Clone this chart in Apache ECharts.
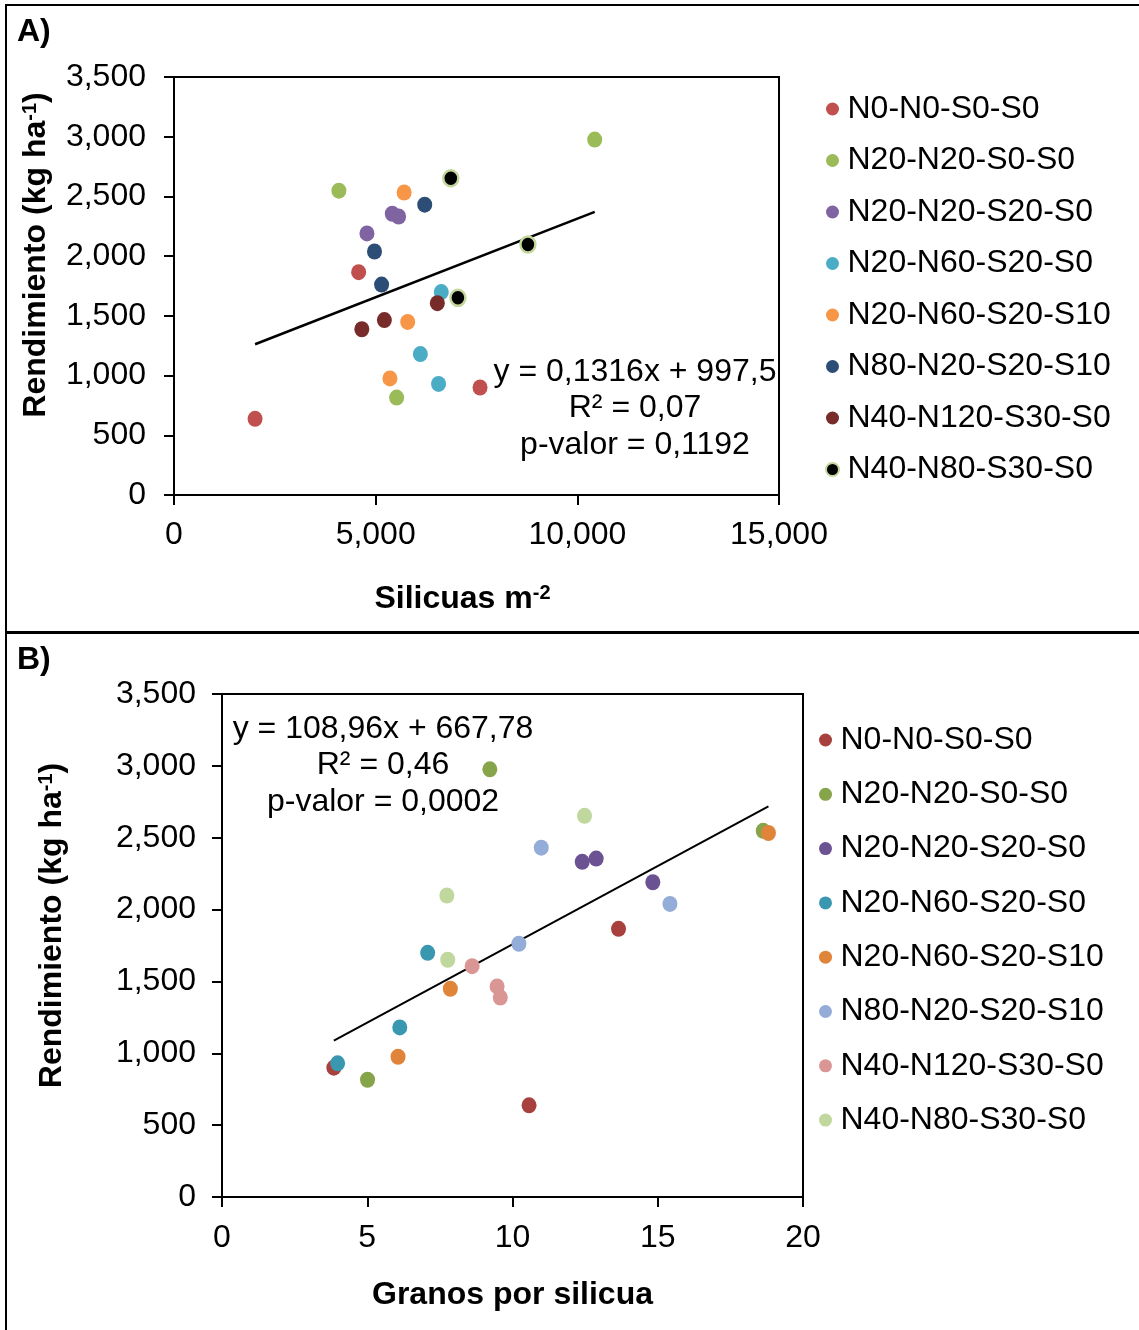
<!DOCTYPE html>
<html>
<head>
<meta charset="utf-8">
<script src="https://cdn.jsdelivr.net/npm/echarts@6/dist/echarts.min.js"></script>
<style>
  html, body { margin: 0; padding: 0; background: #fff; }
  #wrap { position: relative; width: 1139px; height: 1330px; overflow: hidden; }
  #chartA { position: absolute; left: 0; top: 0; width: 1139px; height: 632px; }
  #chartB { position: absolute; left: 0; top: 632px; width: 1139px; height: 698px; }
  .ln { position: absolute; background: #000; z-index: 5; }
</style>
</head>
<body>
<div id="wrap">
  <div id="chartA"></div>
  <div id="chartB"></div>
  <div class="ln" style="left:5px; top:4px; width:1134px; height:2px;"></div>
  <div class="ln" style="left:5px; top:4px; width:2px; height:1326px;"></div>
  <div class="ln" style="left:5px; top:631px; width:1134px; height:3px;"></div>
</div>
<script>
// ---- Data ----
const treatments = ['N0-N0-S0-S0', 'N20-N20-S0-S0', 'N20-N20-S20-S0', 'N20-N60-S20-S0',
                    'N20-N60-S20-S10', 'N80-N20-S20-S10', 'N40-N120-S30-S0', 'N40-N80-S30-S0'];

// Rendimiento (kg ha-1), three replicates per treatment
const yield_N0N0S0S0     = [638, 1866, 900];
const yield_N20N20S0S0   = [2976, 2548, 816];
const yield_N20N20S20S0  = [2355, 2332, 2190];
const yield_N20N60S20S0  = [1699, 1180, 930];
const yield_N20N60S20S10 = [2533, 1449, 976];
const yield_N80N20S20S10 = [2431, 2039, 1762];
const yield_N40N120S30S0 = [1606, 1465, 1388];
const yield_N40N80S30S0  = [2652, 2098, 1651];

// Silicuas m-2 (panel A)
const sil_N0N0S0S0     = [2010, 4578, 7588];
const sil_N20N20S0S0   = [10431, 4088, 5520];
const sil_N20N20S20S0  = [5412, 5569, 4784];
const sil_N20N60S20S0  = [6627, 6108, 6559];
const sil_N20N60S20S10 = [5706, 5794, 5353];
const sil_N80N20S20S10 = [6216, 4971, 5147];
const sil_N40N120S30S0 = [6529, 5216, 4657];
const sil_N40N80S30S0  = [6863, 8775, 7039];

// Granos por silicua (panel B)
const gr_N0N0S0S0     = [10.57, 13.65, 3.85];
const gr_N20N20S0S0   = [9.22, 18.63, 5.01];
const gr_N20N20S20S0  = [12.88, 12.40, 14.83];
const gr_N20N60S20S0  = [7.08, 6.12, 3.98];
const gr_N20N60S20S10 = [18.81, 7.86, 6.06];
const gr_N80N20S20S10 = [10.99, 15.42, 10.22];
const gr_N40N120S30S0 = [8.61, 9.47, 9.58];
const gr_N40N80S30S0  = [12.48, 7.74, 7.77];

// Tick values
const yTicks = [0, 500, 1000, 1500, 2000, 2500, 3000, 3500];
const xTicksA = [0, 5000, 10000, 15000];
const xTicksB = [0, 5, 10, 15, 20];

// Regression (from chart annotations)
const slopeA = 0.1316, interceptA = 997.5;
const eqA = ['y = 0,1316x + 997,5', 'R² = 0,07', 'p-valor = 0,1192'];
const slopeB = 108.96, interceptB = 667.78;
const eqB = ['y = 108,96x + 667,78', 'R² = 0,46', 'p-valor = 0,0002'];

const yields = [yield_N0N0S0S0, yield_N20N20S0S0, yield_N20N20S20S0, yield_N20N60S20S0,
                yield_N20N60S20S10, yield_N80N20S20S10, yield_N40N120S30S0, yield_N40N80S30S0];
const silA = [sil_N0N0S0S0, sil_N20N20S0S0, sil_N20N20S20S0, sil_N20N60S20S0,
              sil_N20N60S20S10, sil_N80N20S20S10, sil_N40N120S30S0, sil_N40N80S30S0];
const grB = [gr_N0N0S0S0, gr_N20N20S0S0, gr_N20N20S20S0, gr_N20N60S20S0,
             gr_N20N60S20S10, gr_N80N20S20S10, gr_N40N120S30S0, gr_N40N80S30S0];

// ---- Styles ----
const colorsA = ['#C0504D', '#9BBB59', '#8064A2', '#4BACC6', '#F79646', '#2C4D75', '#772C2A', '#000000'];
const colorsB = ['#A8403D', '#86A44A', '#6A5293', '#3A97B0', '#E0843A', '#94ACD8', '#D99694', '#C0D79E'];
const FONT = '"Liberation Sans", Arial, sans-serif';
const FS = 32;
const fmt = v => Number(v).toLocaleString('en-US');

function axisCommon() {
  return {
    axisLine: { show: true, onZero: false, lineStyle: { color: '#000', width: 2 } },
    axisTick: { show: true, inside: false, length: 10, lineStyle: { color: '#000', width: 2 } },
    splitLine: { show: false }
  };
}

function richStyles() {
  return {
    b: { fontFamily: FONT, fontSize: FS, fontWeight: 'bold', color: '#000' },
    sup: { fontFamily: FONT, fontSize: 20, fontWeight: 'bold', color: '#000', verticalAlign: 'top', lineHeight: FS, padding: [0, 0, 15, 0] }
  };
}

function build(cfg) {
  const series = treatments.map((t, i) => ({
    name: t,
    type: 'scatter',
    symbol: 'circle',
    symbolSize: [15, 16],
    itemStyle: Object.assign({ opacity: 1 }, cfg.itemStyle(i)),
    data: cfg.xs[i].map((x, k) => [x, yields[i][k]]),
    z: 3
  }));
  const allX = cfg.xs.flat();
  const xmin = Math.min(...allX), xmax = Math.max(...allX);
  series.push({
    name: 'trend',
    type: 'line',
    data: [[xmin, cfg.slope * xmin + cfg.intercept], [xmax, cfg.slope * xmax + cfg.intercept]],
    symbol: 'none',
    lineStyle: { color: '#000', width: cfg.lineW },
    z: 2,
    silent: true
  });
  const xt = cfg.xTicks;
  return {
    animation: false,
    backgroundColor: '#fff',
    textStyle: { fontFamily: FONT },
    grid: { left: cfg.grid[0], top: cfg.grid[1], width: cfg.grid[2], height: cfg.grid[3],
            show: true, borderColor: '#000', borderWidth: 2, backgroundColor: 'transparent' },
    xAxis: Object.assign(axisCommon(), {
      type: 'value', min: xt[0], max: xt[xt.length - 1], interval: xt[1] - xt[0],
      axisLabel: { fontSize: FS, color: '#000', margin: cfg.xLabMargin, fontFamily: FONT, formatter: fmt },
      name: cfg.xName, nameLocation: 'middle', nameGap: cfg.xNameGap,
      nameTextStyle: { fontFamily: FONT, fontSize: FS, fontWeight: 'bold', color: '#000',
        padding: cfg.xNamePad, rich: richStyles() }
    }),
    yAxis: Object.assign(axisCommon(), {
      type: 'value', min: yTicks[0], max: yTicks[yTicks.length - 1], interval: yTicks[1] - yTicks[0],
      axisLabel: { fontSize: FS, color: '#000', margin: cfg.yLabMargin, fontFamily: FONT, formatter: fmt },
      name: '{b|Rendimiento (kg ha}{sup|-1}{b|)}', nameLocation: 'middle', nameGap: cfg.yNameGap,
      nameTextStyle: { fontFamily: FONT, fontSize: FS, fontWeight: 'bold', color: '#000',
        padding: cfg.yNamePad, rich: richStyles() }
    }),
    legend: {
      orient: 'vertical', left: cfg.legend[0], top: cfg.legend[1],
      itemWidth: 20, itemHeight: 13, itemGap: cfg.legendGap, icon: 'circle',
      data: treatments,
      textStyle: { fontFamily: FONT, fontSize: FS, color: '#000' }
    },
    graphic: [
      { type: 'text', left: 17, top: cfg.labelTop, style: { text: cfg.label, font: 'bold ' + FS + 'px ' + FONT, fill: '#000' } }
    ].concat(cfg.eq.map((s, j) => ({
      type: 'text', x: cfg.eqPos[0], y: cfg.eqPos[1] + j * cfg.eqStep,
      style: { text: s, font: FS + 'px ' + FONT, fill: '#000', textAlign: 'center', textVerticalAlign: 'middle' }
    }))),
    series: series
  };
}

const optA = build({
  xs: silA, xTicks: xTicksA, slope: slopeA, intercept: interceptA, lineW: 2.5,
  grid: [174, 77, 605, 418],
  itemStyle: i => i === 7 ? { color: colorsA[i], borderColor: '#C3D69B', borderWidth: 2.5 } : { color: colorsA[i] },
  xLabMargin: 24, yLabMargin: 28,
  xName: '{b|Silicuas m}{sup|-2}', xNameGap: 88, xNamePad: [0, 28, 0, 0],
  yNameGap: 120, yNamePad: [0, 0, 0, 62],
  legend: [820, 88], legendGap: 19.5,
  label: 'A)', labelTop: 16,
  eq: eqA, eqPos: [635, 372], eqStep: 36.5
});

const optB = build({
  xs: grB, xTicks: xTicksB, slope: slopeB, intercept: interceptB, lineW: 2,
  grid: [222, 62, 581, 503],
  itemStyle: i => ({ color: colorsB[i] }),
  xLabMargin: 25, yLabMargin: 26,
  xName: '{b|Granos por silicua}', xNameGap: 82, xNamePad: [0, 0, 0, 0],
  yNameGap: 154, yNamePad: [0, 0, 0, 40],
  legend: [814, 87], legendGap: 22.3,
  label: 'B)', labelTop: 12,
  eq: eqB, eqPos: [383, 97], eqStep: 36.5
});

echarts.init(document.getElementById('chartA'), null, { renderer: 'canvas' }).setOption(optA);
echarts.init(document.getElementById('chartB'), null, { renderer: 'canvas' }).setOption(optB);
</script>
</body>
</html>
